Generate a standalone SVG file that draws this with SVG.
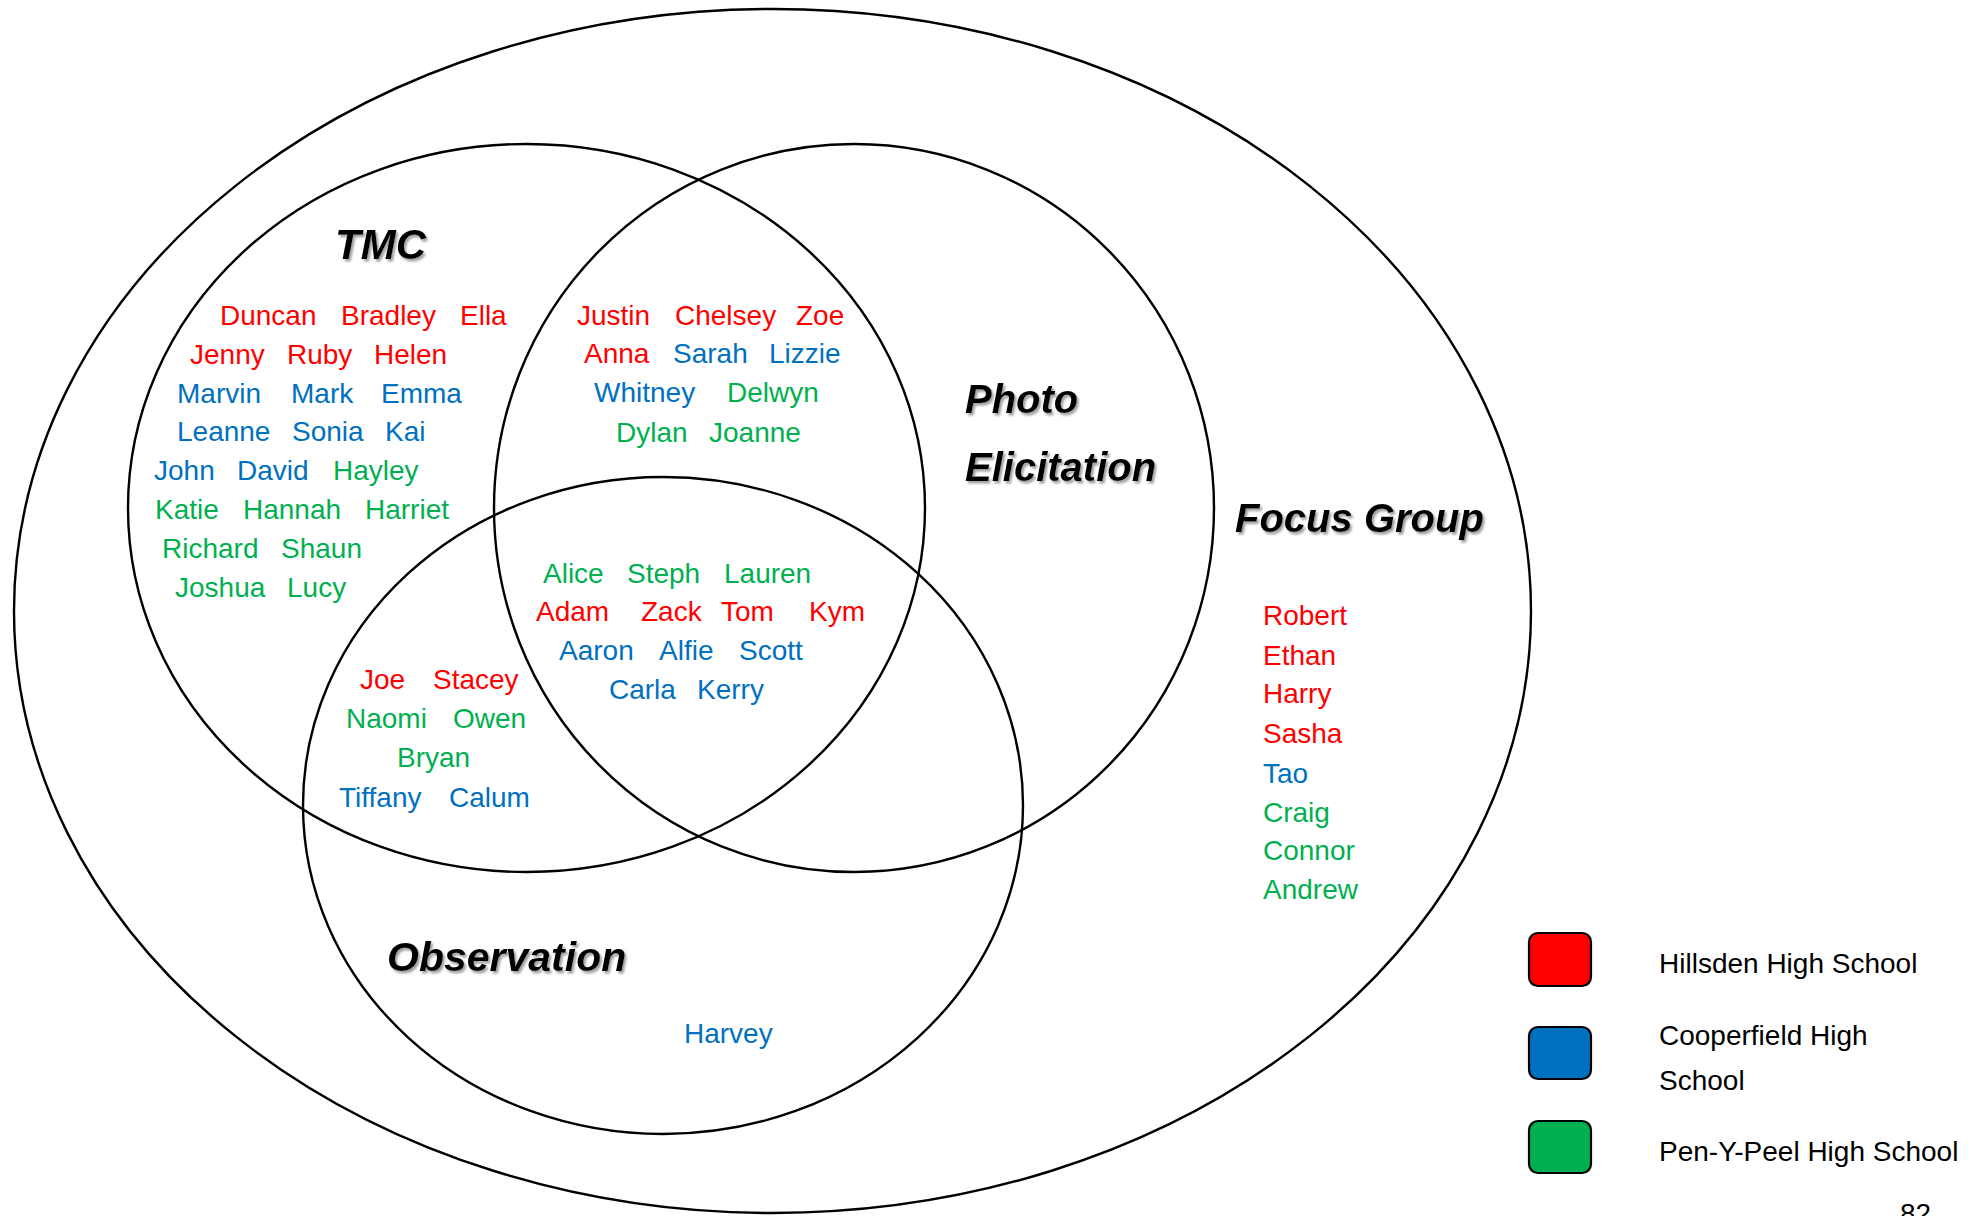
<svg xmlns="http://www.w3.org/2000/svg" width="1982" height="1216" viewBox="0 0 1982 1216">
<defs>
<filter id="sh" x="-10%" y="-20%" width="130%" height="150%">
<feDropShadow dx="2" dy="2.5" stdDeviation="1.2" flood-color="#888" flood-opacity="0.8"/>
</filter>
</defs>
<style>
.ring{fill:none;stroke:#000;stroke-width:2.4}
.lbl{font-family:"Liberation Sans",Arial,sans-serif;font-weight:bold;font-style:italic;fill:#000;filter:url(#sh)}
.nm{font-family:"Liberation Sans",Arial,sans-serif;font-size:28px}
.r{fill:#FF0000}.b{fill:#0070C0}.g{fill:#00B050}
.key{stroke:#000;stroke-width:2.2}
.lg{font-family:"Liberation Sans",Arial,sans-serif;font-size:28px;fill:#000}
</style>
<rect width="1982" height="1216" fill="#fff"/>

<g id="focus-group">
<ellipse class="ring" cx="772.5" cy="611" rx="758.5" ry="602"/>
<text class="lbl" x="1235" y="532" font-size="40">Focus Group</text>
<g class="nm">
<text class="r" x="1263" y="625">Robert</text>
<text class="r" x="1263" y="665">Ethan</text>
<text class="r" x="1263" y="703">Harry</text>
<text class="r" x="1263" y="743">Sasha</text>
<text class="b" x="1263" y="783">Tao</text>
<text class="g" x="1263" y="822">Craig</text>
<text class="g" x="1263" y="860">Connor</text>
<text class="g" x="1263" y="899">Andrew</text>
</g>
</g>

<g id="tmc">
<ellipse class="ring" cx="526.5" cy="508" rx="398.5" ry="364"/>
<text class="lbl" x="335" y="259" font-size="42">TMC</text>
<g class="nm">
<text class="r" x="220" y="325">Duncan</text><text class="r" x="341" y="325">Bradley</text><text class="r" x="460" y="325">Ella</text>
<text class="r" x="190" y="364">Jenny</text><text class="r" x="287" y="364">Ruby</text><text class="r" x="374" y="364">Helen</text>
<text class="b" x="177" y="403">Marvin</text><text class="b" x="291" y="403">Mark</text><text class="b" x="381" y="403">Emma</text>
<text class="b" x="177" y="441">Leanne</text><text class="b" x="292" y="441">Sonia</text><text class="b" x="385" y="441">Kai</text>
<text class="b" x="154" y="480">John</text><text class="b" x="237" y="480">David</text><text class="g" x="333" y="480">Hayley</text>
<text class="g" x="155" y="519">Katie</text><text class="g" x="243" y="519">Hannah</text><text class="g" x="365" y="519">Harriet</text>
<text class="g" x="162" y="558">Richard</text><text class="g" x="281" y="558">Shaun</text>
<text class="g" x="175" y="597">Joshua</text><text class="g" x="287" y="597">Lucy</text>
</g>
</g>

<g id="photo-elicitation">
<ellipse class="ring" cx="854" cy="508" rx="360" ry="364"/>
<text class="lbl" x="965" y="413" font-size="40">Photo</text>
<text class="lbl" x="965" y="481" font-size="40">Elicitation</text>
<g class="nm">
<text class="r" x="577" y="325">Justin</text><text class="r" x="675" y="325">Chelsey</text><text class="r" x="796" y="325">Zoe</text>
<text class="r" x="584" y="363">Anna</text><text class="b" x="673" y="363">Sarah</text><text class="b" x="769" y="363">Lizzie</text>
<text class="b" x="594" y="402">Whitney</text><text class="g" x="727" y="402">Delwyn</text>
<text class="g" x="616" y="442">Dylan</text><text class="g" x="709" y="442">Joanne</text>
</g>
</g>

<g id="observation">
<ellipse class="ring" cx="663" cy="805.5" rx="360" ry="328.5"/>
<text class="lbl" x="387" y="971" font-size="41">Observation</text>
<g class="nm">
<text class="r" x="360" y="689">Joe</text><text class="r" x="433" y="689">Stacey</text>
<text class="g" x="346" y="728">Naomi</text><text class="g" x="453" y="728">Owen</text>
<text class="g" x="397" y="767">Bryan</text>
<text class="b" x="339" y="807">Tiffany</text><text class="b" x="449" y="807">Calum</text>
<text class="b" x="684" y="1043">Harvey</text>
</g>
</g>

<g id="all-methods" class="nm">
<text class="g" x="543" y="583">Alice</text><text class="g" x="627" y="583">Steph</text><text class="g" x="724" y="583">Lauren</text>
<text class="r" x="536" y="621">Adam</text><text class="r" x="641" y="621">Zack</text><text class="r" x="721" y="621">Tom</text><text class="r" x="809" y="621">Kym</text>
<text class="b" x="559" y="660">Aaron</text><text class="b" x="659" y="660">Alfie</text><text class="b" x="739" y="660">Scott</text>
<text class="b" x="609" y="699">Carla</text><text class="b" x="697" y="699">Kerry</text>
</g>

<g id="legend">
<g id="key-hillsden">
<rect class="key" x="1529" y="933" width="62" height="53" rx="9" fill="#FF0000"/>
<text class="lg" x="1659" y="973">Hillsden High School</text>
</g>
<g id="key-cooperfield">
<rect class="key" x="1529" y="1027" width="62" height="52" rx="9" fill="#0070C0"/>
<text class="lg" x="1659" y="1045">Cooperfield High</text>
<text class="lg" x="1659" y="1090">School</text>
</g>
<g id="key-penypeel">
<rect class="key" x="1529" y="1121" width="62" height="52" rx="9" fill="#00B050"/>
<text class="lg" x="1659" y="1161">Pen-Y-Peel High School</text>
</g>
</g>

<text class="lg" x="1900" y="1223">82</text>
</svg>
